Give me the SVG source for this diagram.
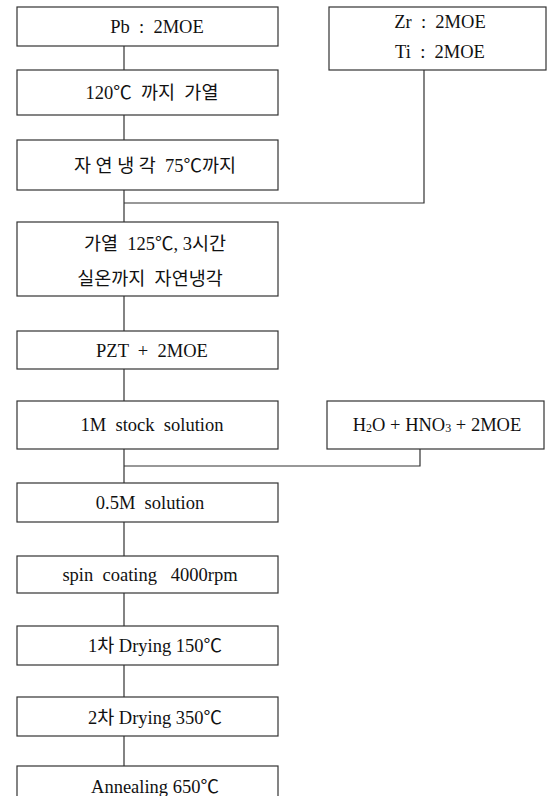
<svg xmlns="http://www.w3.org/2000/svg" width="553" height="796" viewBox="0 0 553 796">
<style>
.box{fill:#fff;stroke:#333;stroke-width:1.2}
.ln{fill:none;stroke:#333;stroke-width:1.2}
text{font-family:"Liberation Serif","Noto Sans CJK KR",serif;font-size:18.5px;fill:#111;text-anchor:middle;dominant-baseline:central}
.k{font-weight:300}
</style>
<rect width="553" height="796" fill="#fff"/>
<g id="connectors">
<path class="ln" d="M124 46V70M124 115V140M124 190V222M124 203H424V70M124 296V331M124 369V401M124 449V483M124 466H420V449M124 522V556M124 593V626M124 665V697M124 736V766"/>
</g>
<g id="n1"><rect class="box" x="17" y="7" width="261" height="39"/><text x="157" y="27" xml:space="preserve">Pb  :  2MOE</text></g>
<g id="n2"><rect class="box" x="17" y="70" width="261" height="45"/><text x="152" y="93" xml:space="preserve">120℃  까지  가열</text></g>
<g id="n3"><rect class="box" x="17" y="140" width="261" height="50"/><text x="155" y="166" xml:space="preserve">자 연 냉 각  75℃까지</text></g>
<g id="nzt"><rect class="box" x="329" y="7" width="217" height="63"/><text x="440" y="22" xml:space="preserve">Zr  :  2MOE</text><text x="440" y="52" xml:space="preserve">Ti  :  2MOE</text></g>
<g id="n4"><rect class="box" x="17" y="222" width="261" height="74"/><text x="155" y="244" xml:space="preserve">가열  125℃, 3시간</text><text x="150" y="279" xml:space="preserve">실온까지  자연냉각</text></g>
<g id="n5"><rect class="box" x="17" y="331" width="261" height="38"/><text x="152" y="351" xml:space="preserve">PZT  +  2MOE</text></g>
<g id="n6"><rect class="box" x="17" y="401" width="261" height="48"/><text x="152" y="425" xml:space="preserve">1M  stock  solution</text></g>
<g id="nh"><rect class="box" x="327" y="401" width="217" height="48"/><text x="437" y="425">H<tspan font-size="12" dy="3">2</tspan><tspan dy="-3">O + HNO</tspan><tspan font-size="12" dy="3">3</tspan><tspan dy="-3"> + 2MOE</tspan></text></g>
<g id="n7"><rect class="box" x="17" y="483" width="261" height="39"/><text x="150" y="503" xml:space="preserve">0.5M  solution</text></g>
<g id="n8"><rect class="box" x="17" y="556" width="261" height="37"/><text x="150" y="575" xml:space="preserve">spin  coating   4000rpm</text></g>
<g id="n9"><rect class="box" x="17" y="626" width="261" height="39"/><text x="155" y="646">1차 Drying 150℃</text></g>
<g id="n10"><rect class="box" x="17" y="697" width="261" height="39"/><text x="155" y="718">2차 Drying 350℃</text></g>
<g id="n11"><rect class="box" x="17" y="766" width="261" height="40"/><text x="155" y="787">Annealing 650℃</text></g>
</svg>
